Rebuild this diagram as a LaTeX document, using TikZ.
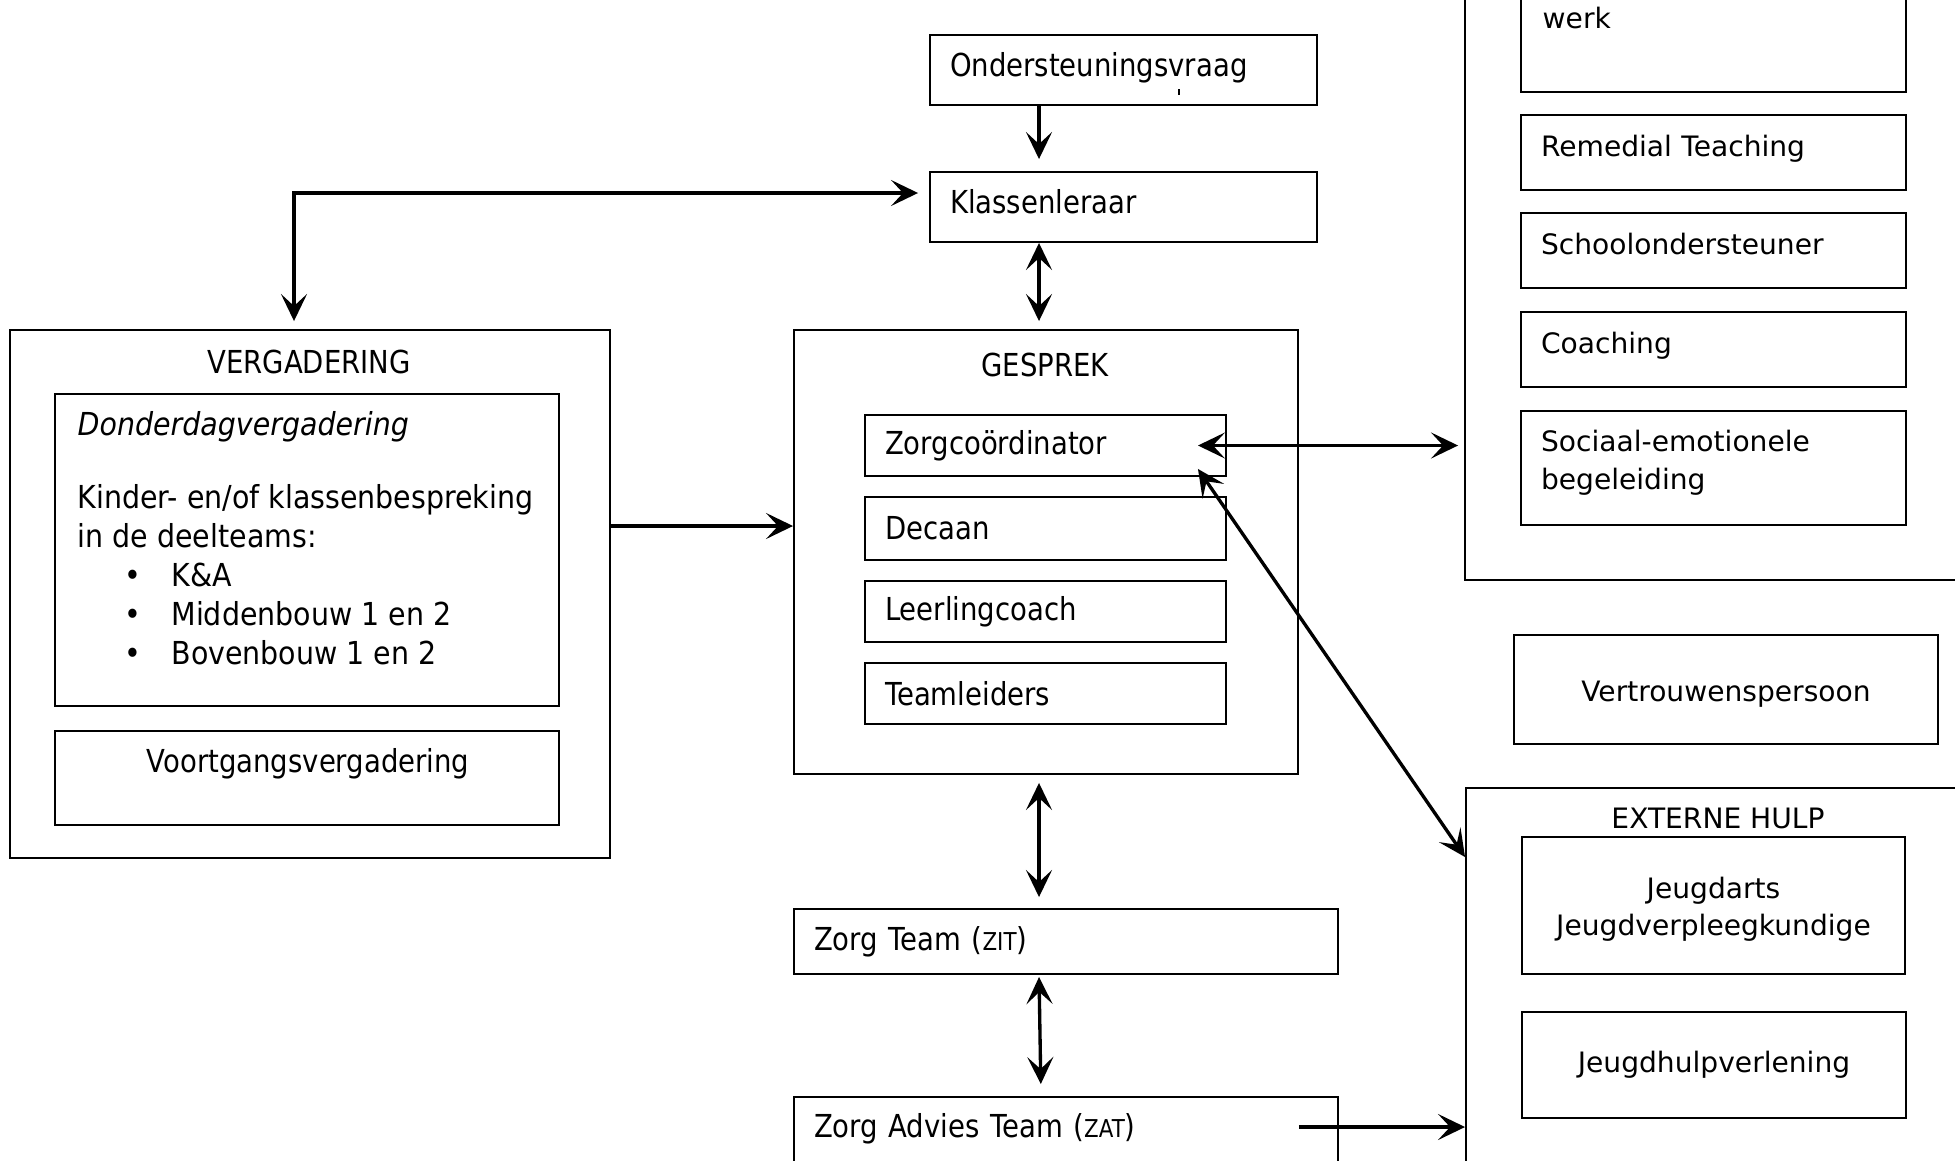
\documentclass[tikz,border=0pt]{standalone}
\usepackage{fontspec}
\setmainfont{DejaVu Sans}
\newfontfamily\narrowsans{DejaVu Sans}[FakeStretch=0.87]
\newfontfamily\listsans{DejaVu Sans}[FakeStretch=0.90]
\usetikzlibrary{arrows.meta}

\begin{document}
\begin{tikzpicture}[
    box/.style={draw, line width=0.55pt, inner sep=0pt},
    nar/.style={font=\narrowsans\fontsize{9}{11.1}\selectfont},
    wid/.style={font=\fontsize{8}{10.7}\selectfont},
    lft/.style={inner xsep=0.2cm, align=left},
    hoog/.style={text height=6.84pt, text depth=3.2pt},
    laag/.style={text height=6.1pt, text depth=4.1pt},
    kop/.tip={Stealth[length=0.27cm, width=0.26cm, inset=0.12cm]},
    pijl/.style={line width=0.95pt, -kop},
    dubbel/.style={line width=0.95pt, kop-kop},
  ]
    \useasboundingbox (0,0) rectangle (19.55,-11.60);

    % middelste kolom
    \node[box, nar, lft, hoog, text width=3.47cm, minimum height=0.70cm](ond) at (11.235,-0.70){Ondersteuningsvraag};
    \draw[line width=0.6pt] (11.79,-0.89) -- (11.79,-0.95);
    \node[box, nar, lft, hoog, text width=3.47cm, minimum height=0.70cm](klas) at (11.235,-2.07){Klassenleraar};

    \node[box, minimum width=5.04cm, minimum height=4.44cm](gesprek) at (10.46,-5.52){};
    \node[nar, anchor=base](gesprektitel) at (10.45,-3.76){GESPREK};
    \node[box, nar, lft, text width=3.21cm, minimum height=0.61cm](zorgc) at (10.455,-4.455){Zorgcoördinator};
    \node[box, nar, lft, text width=3.21cm, minimum height=0.63cm](decaan) at (10.455,-5.285){Decaan};
    \node[box, nar, lft, text width=3.21cm, minimum height=0.61cm](leerling) at (10.455,-6.115){Leerlingcoach};
    \node[box, nar, lft, text width=3.21cm, minimum height=0.61cm](teaml) at (10.455,-6.935){Teamleiders};

    \node[box, nar, lft, text width=5.04cm, minimum height=0.65cm](zit) at (10.66,-9.415){Zorg Team ({\fontsize{7}{8}\selectfont ZIT})};
    \node[box, nar, lft, text height=6.84pt, text depth=6.4pt, text width=5.04cm, minimum height=0.80cm](zat) at (10.66,-11.37){Zorg Advies Team ({\fontsize{7}{8}\selectfont ZAT})};

    % vergadering
    \node[box, minimum width=6.00cm, minimum height=5.28cm](verg) at (3.10,-5.94){};
    \node[nar, anchor=base](vergtitel) at (3.09,-3.73){VERGADERING};
    \node[box, minimum width=5.04cm, minimum height=3.12cm](donder) at (3.07,-5.50){};
    \node[font=\listsans\fontsize{9}{11.1}\selectfont, align=left, anchor=base west, inner sep=0pt](dondertekst) at (0.77,-6.645){\textit{Donderdagvergadering}\\[0.34cm]
        Kinder- en/of klassenbespreking\\in de deelteams:\\
        \hspace*{0.47cm}\textbullet\hspace{0.3cm}K\&A\\
        \hspace*{0.47cm}\textbullet\hspace{0.3cm}Middenbouw 1 en 2\\
        \hspace*{0.47cm}\textbullet\hspace{0.3cm}Bovenbouw 1 en 2};
    \node[box, minimum width=5.04cm, minimum height=0.94cm](voort) at (3.07,-7.78){};
    \node[nar, anchor=base](voorttekst) at (3.08,-7.72){Voortgangsvergadering};

    % ondersteuning rechts
    \node[box, minimum width=5.05cm, minimum height=6.20cm](steun) at (17.175,-2.70){};
    \node[box, minimum width=3.85cm, minimum height=1.42cm](werk) at (17.135,-0.21){};
    \node[wid, anchor=base west, inner sep=0pt](werktekst) at (15.42,-0.285){werk};
    \node[box, wid, lft, laag, text width=3.45cm, minimum height=0.75cm](remedial) at (17.135,-1.525){Remedial Teaching};
    \node[box, wid, lft, laag, text width=3.45cm, minimum height=0.75cm](school) at (17.135,-2.505){Schoolondersteuner};
    \node[box, wid, lft, laag, text width=3.45cm, minimum height=0.75cm](coaching) at (17.135,-3.495){Coaching};
    \node[box, wid, lft, text width=3.45cm, minimum height=1.14cm](sociaal) at (17.135,-4.68){Sociaal-emotionele\\begeleiding\rule[-4.7pt]{0pt}{4.7pt}};

    \node[box, wid, text height=8.8pt, text depth=1.9pt, minimum width=4.24cm, minimum height=1.09cm](vertrouw) at (17.26,-6.895){Vertrouwenspersoon};

    % externe hulp
    \node[box, minimum width=5.04cm, minimum height=4.00cm](extern) at (17.18,-9.88){};
    \node[wid, anchor=base](externtitel) at (17.18,-8.28){EXTERNE HULP};
    \node[box, wid, align=center, minimum width=3.83cm, minimum height=1.37cm](jeugdarts) at (17.135,-9.055){\rule{0pt}{8.1pt}Jeugdarts\\Jeugdverpleegkundige};
    \node[box, wid, minimum width=3.84cm, minimum height=1.06cm](jeugdhulp) at (17.14,-10.65){Jeugdhulpverlening};

    % pijlen
    \coordinate(kolom) at (10.39,0);
    \coordinate(hoek) at (2.94,-1.93);
    \coordinate(midden) at (0,-5.26);
    \coordinate(onder) at (0,-11.27);

    \draw[pijl, shorten >=0.12cm](ond.south -| kolom)--(klas.north -| kolom);
    \draw[dubbel, shorten <=0.08cm, shorten >=0.11cm](verg.north -| hoek) |- (klas.west |- hoek);
    \draw[dubbel, shorten >=0.08cm](klas.south -| kolom)--(gesprek.north -| kolom);
    \draw[pijl](verg.east |- midden)--(gesprek.west |- midden);
    \draw[dubbel, shorten >=0.06cm]([xshift=-0.29cm]zorgc.east)--(steun.west |- zorgc.east);
    \draw[dubbel]([shift={(-0.29cm,0.08cm)}]zorgc.south east)--([yshift=-0.70cm]extern.north west);
    \draw[dubbel, shorten <=0.08cm, shorten >=0.11cm](gesprek.south -| kolom)--(zit.north -| kolom);
    \draw[dubbel, shorten <=0.02cm, shorten >=0.12cm](zit.south -| kolom)--([xshift=0.02cm]zat.north -| kolom);
    \draw[pijl]([xshift=-0.40cm]zat.east |- onder)--(extern.west |- onder);
\end{tikzpicture}
\end{document}
